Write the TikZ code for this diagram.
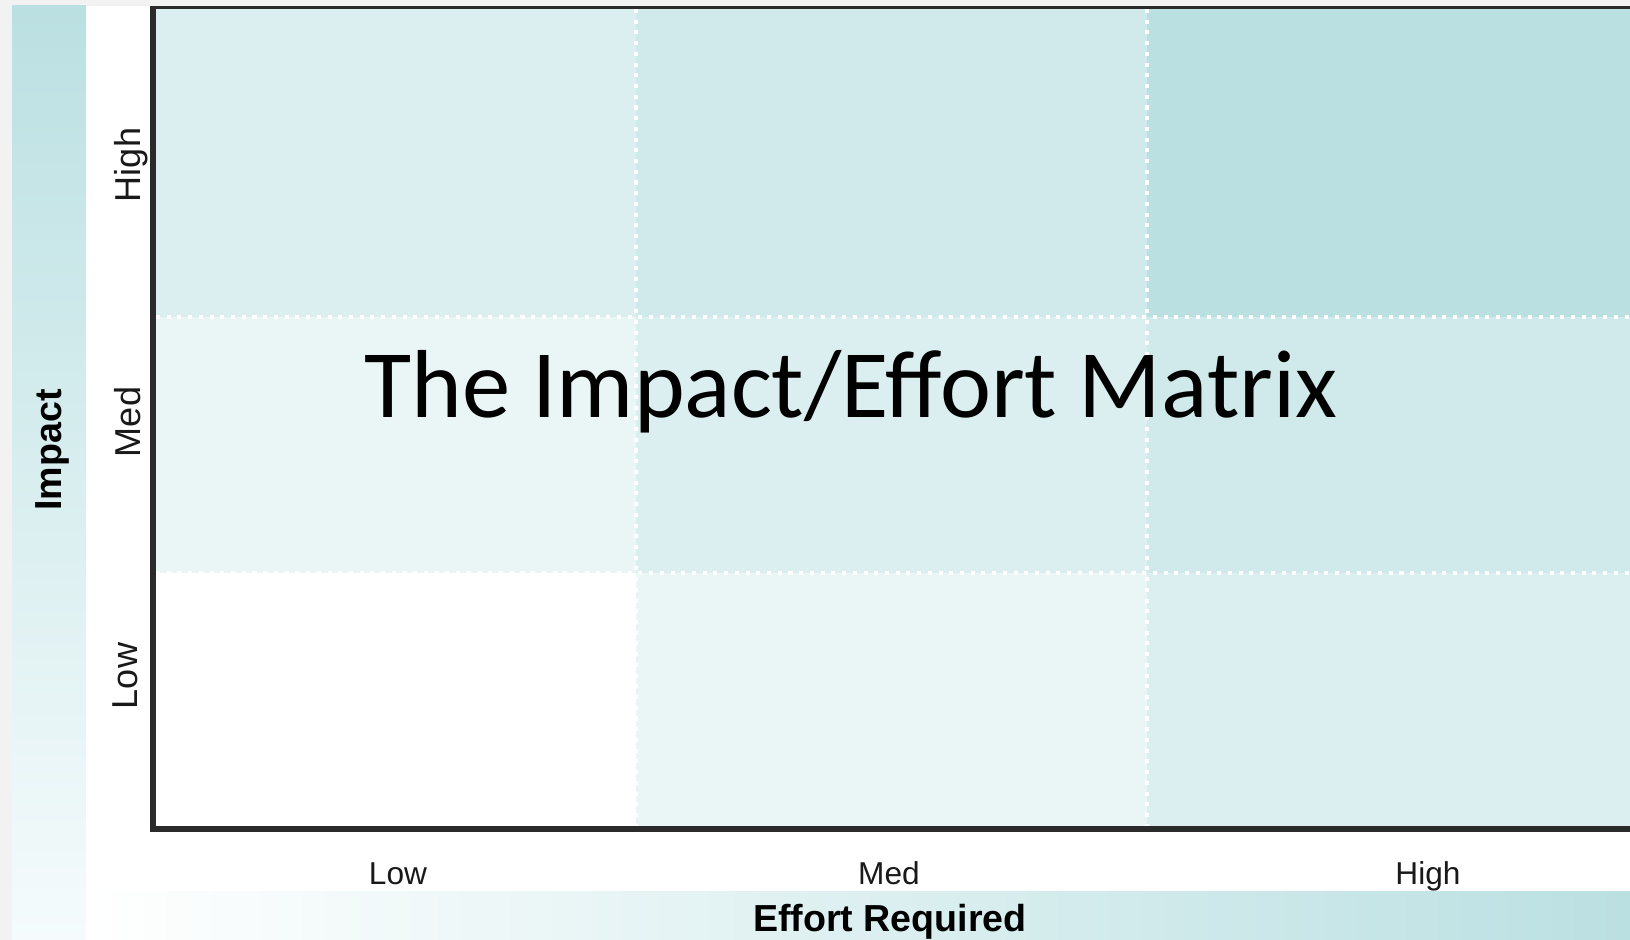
\documentclass[tikz,border=0pt]{standalone}
\usepackage{tikz}
\usepackage{xcolor}
\usepackage{fontspec}
\setmainfont{Liberation Sans}
\newfontfamily\titlefont{Carlito}

\definecolor{paper}{HTML}{F2F2F2}
\definecolor{axisgray}{HTML}{2B2B2B}
\definecolor{tealA}{HTML}{EAF5F6}
\definecolor{tealB}{HTML}{DBEEF0}
\definecolor{tealC}{HTML}{D0E9EA}
\definecolor{tealD}{HTML}{BBE0E2}
\definecolor{bandlow}{HTML}{F5FBFC}

\tikzset{
  cell/.style={inner sep=0pt, outer sep=0pt},
  gridline/.style={white, line width=2.3pt, dash pattern=on 2.3pt off 3.8pt},
  axisline/.style={axisgray, line width=3.6pt},
  ticklabel/.style={text=black!90, font=\fontsize{18}{20}\selectfont, inner sep=0pt},
  yticklabel/.style={text=black!90, font=\fontsize{20.5}{22}\selectfont, inner sep=0pt, rotate=90, anchor=base},
  axislabel/.style={text=black, font=\bfseries\fontsize{21.4}{24}\selectfont, inner sep=0pt}
}

\begin{document}
\begin{tikzpicture}
            \useasboundingbox (0,0) rectangle (32.6,18.8);
            \fill[paper] (0,0) rectangle (32.6,18.8);
            % side and bottom bands
            \shade[top color=tealD, bottom color=bandlow] (0.24,0) rectangle (1.72,18.68);
            \fill[white] (1.72,0) rectangle (32.6,18.68);
            \shade[left color=white, right color=tealD] (1.72,0) rectangle (32.6,0.96);
            % cells, top row
            \fill[tealB] (3.12,12.46) rectangle (12.72,18.62);
            \fill[tealC] (12.72,12.46) rectangle (22.94,18.62);
            \fill[tealD] (22.94,12.46) rectangle (32.6,18.62);
            % cells, middle row
            \fill[tealA] (3.12,7.34) rectangle (12.72,12.46);
            \fill[tealB] (12.72,7.34) rectangle (22.94,12.46);
            \fill[tealC] (22.94,7.34) rectangle (32.6,12.46);
            % cells, bottom row
            \fill[white] (3.12,2.28) rectangle (12.72,7.34);
            \fill[tealA] (12.72,2.28) rectangle (22.94,7.34);
            \fill[tealB] (22.94,2.28) rectangle (32.6,7.34);
            % dotted grid
            \draw[gridline] (12.72,18.62) -- (12.72,2.28);
            \draw[gridline] (22.94,18.62) -- (22.94,2.28);
            \draw[gridline] (3.12,12.46) -- (32.6,12.46);
            \draw[gridline] (3.12,7.34) -- (32.6,7.34);
            % frame
            \draw[axisgray, line width=2pt] (3.0,18.65) -- (32.6,18.65);
            \draw[axisline] (3.06,18.68) -- (3.06,2.15);
            \draw[axisline] (2.99,2.22) -- (32.6,2.22);
            \node[anchor=base, inner sep=0pt](title) at (17.02,10.44){\titlefont\fontsize{55}{60}\selectfont The Impact/Effort Matrix};
            \node[ticklabel, anchor=base](xlow) at (7.96,1.10){Low};
            \node[ticklabel, anchor=base](xmed) at (17.78,1.10){Med};
            \node[ticklabel, anchor=base](xhigh) at (28.56,1.10){High};
            \node[axislabel, anchor=base](xlabel) at (17.80,0.16){Effort Required};
            \node[yticklabel](yhigh) at (2.80,15.50){High};
            \node[yticklabel](ymed) at (2.80,10.36){Med};
            \node[yticklabel](ylow) at (2.74,5.28){Low};
            \node[axislabel, rotate=90, anchor=base](ylabel) at (1.22,9.80){Impact};
        \end{tikzpicture}
\end{document}
